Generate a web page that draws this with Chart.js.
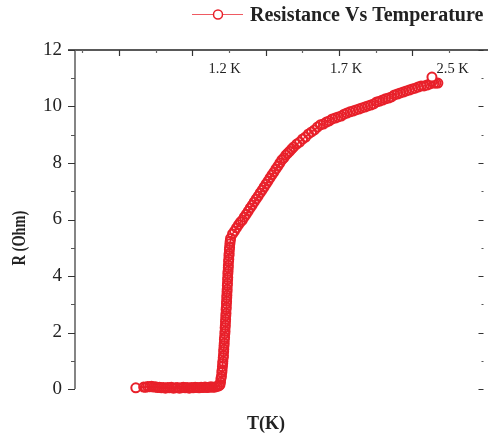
<!DOCTYPE html>
<html>
<head>
<meta charset="utf-8">
<script src="https://cdn.jsdelivr.net/npm/chart.js@4"></script>
<style>
  html, body { margin: 0; padding: 0; background: #fff; overflow: hidden; }
  #wrap { width: 488px; height: 437px; overflow: hidden; }
</style>
</head>
<body>
<div id="wrap"><canvas id="rt" width="490" height="437"></canvas></div>
<script>
// ---------------- data ----------------
// sweep index (horizontal position) and resistance in Ohm
// superconducting floor
var flatIdx = [122.9, 133.6, 136.3, 139.0, 141.7, 144.4, 147.1, 149.8, 152.5, 155.2, 157.9,
    160.6, 163.3, 166.0, 168.7, 171.4, 174.1, 176.8, 179.5, 182.2, 184.9, 187.6, 190.3, 193.0,
    195.7, 198.4, 201.1, 203.8, 206.5, 209.2, 211.9, 214.6, 217.3, 220.0, 222.7, 225.4, 228.1,
    230.8, 233.5, 236.2];
var flatR = [0.04, 0.07, 0.06, 0.09, 0.08, 0.10, 0.07, 0.08, 0.05, 0.06, 0.04, 0.05, 0.03, 0.05,
    0.04, 0.06, 0.03, 0.04, 0.05, 0.03, 0.04, 0.06, 0.04, 0.05, 0.03, 0.05, 0.04, 0.06, 0.05,
    0.04, 0.06, 0.05, 0.07, 0.05, 0.06, 0.08, 0.06, 0.07, 0.09, 0.11];

// transition
var riseIdx = [237.7, 238.4, 239.0, 239.7, 240.2, 240.5, 241.0, 241.4, 241.6, 242.1, 242.4,
    242.7, 242.9, 243.2, 243.5, 243.7, 244.0, 244.3, 244.6, 244.7, 245.0, 245.2, 245.4, 245.6,
    245.9, 246.0, 246.3, 246.5, 246.7, 246.9, 247.1, 247.3, 247.5, 247.7, 247.9, 248.1, 248.3,
    248.4, 248.7, 249.0, 249.1, 249.4, 249.7, 249.9, 250.2, 250.5, 250.8, 251.2, 251.6, 252.1];
var riseR = [0.15, 0.24, 0.37, 0.45, 0.58, 0.66, 0.79, 0.90, 0.98, 1.11, 1.19, 1.32, 1.41, 1.53,
    1.62, 1.75, 1.83, 1.96, 2.04, 2.17, 2.26, 2.38, 2.47, 2.59, 2.68, 2.81, 2.89, 3.02, 3.11,
    3.23, 3.32, 3.44, 3.53, 3.66, 3.74, 3.87, 3.95, 4.08, 4.17, 4.29, 4.38, 4.51, 4.59, 4.72,
    4.80, 4.93, 5.02, 5.14, 5.23, 5.33];

// normal state
var curveIdx = [254.8, 257.5, 260.2, 262.9, 265.6, 268.3, 270.9, 273.6, 276.3, 279.0, 281.7,
    284.4, 287.1, 289.8, 292.5, 295.2, 297.9, 300.6, 303.2, 305.9, 308.6, 311.3, 314.0, 316.7,
    319.4, 322.1, 324.8, 327.5, 330.2, 332.9, 335.6, 338.2, 342.3, 346.3, 350.4, 354.4, 358.4,
    362.5, 366.5, 370.5, 374.6, 378.6, 382.7, 386.7, 390.7, 394.8, 398.8, 402.9, 406.9, 410.9,
    415.0, 419.0, 423.0, 427.1, 431.1, 435.2, 439.2, 443.2, 447.3, 451.3, 455.3, 459.4, 463.4,
    467.5, 471.5, 475.5, 479.6, 483.6, 487.6, 491.7, 495.7, 499.8, 503.8, 507.8, 511.9, 515.9,
    520.0, 524.0, 526.7, 529.4, 532.1, 534.8, 526.7];
var curveR = [5.49, 5.59, 5.70, 5.81, 5.91, 5.98, 6.09, 6.19, 6.30, 6.41, 6.51, 6.62, 6.73, 6.83,
    6.94, 7.04, 7.15, 7.26, 7.36, 7.47, 7.58, 7.68, 7.79, 7.89, 8.00, 8.11, 8.18, 8.28, 8.35,
    8.42, 8.50, 8.57, 8.67, 8.74, 8.85, 8.92, 9.03, 9.10, 9.17, 9.27, 9.35, 9.38, 9.45, 9.49,
    9.56, 9.59, 9.63, 9.66, 9.73, 9.77, 9.81, 9.84, 9.88, 9.91, 9.95, 9.98, 10.02, 10.05, 10.09,
    10.16, 10.19, 10.23, 10.27, 10.30, 10.34, 10.41, 10.44, 10.48, 10.51, 10.55, 10.58, 10.62,
    10.65, 10.69, 10.73, 10.73, 10.76, 10.80, 10.87, 10.83, 10.83, 10.83, 11.04];

// temperature markers along the top edge
var markLabels = ['1.2 K', '1.7 K', '2.5 K'];
var markIdx = [244.0, 409.6, 555.0];

// axis ticks
var yTicks = [0, 2, 4, 6, 8, 10, 12];
var yMinor = [1, 3, 5, 7, 9, 11];
var topMajor = [100, 200, 300, 400, 500];
var topMinor = [50, 150, 250, 350, 450, 550];

var seriesName = 'Resistance Vs Temperature';
var RED = '#e8202a';
var SERIF = '"Liberation Serif", "Times New Roman", serif';

var idx = flatIdx.concat(riseIdx, curveIdx);
var res = flatR.concat(riseR, curveR);
var points = idx.map(function (x, i) { return { x: x, y: res[i] }; });
var lastPt = points.length - 1;

// frame: left axis, top line, inward ticks on top/right
var framePlugin = {
    id: 'frame',
    beforeDatasetsDraw: function (chart) {
        var ctx = chart.ctx, a = chart.chartArea;
        var xs = chart.scales.x, ys = chart.scales.y;
        ctx.save();
        ctx.lineCap = 'butt';

        // top line
        ctx.strokeStyle = '#222';
        ctx.lineWidth = 1.3;
        ctx.beginPath();
        ctx.moveTo(a.left - 7, a.top);
        ctx.lineTo(chart.width, a.top);
        ctx.stroke();

        // left axis
        ctx.strokeStyle = '#666';
        ctx.lineWidth = 1.6;
        ctx.beginPath();
        ctx.moveTo(a.left, a.top);
        ctx.lineTo(a.left, a.bottom);
        ctx.stroke();

        // left ticks (outward) and right ticks (inward)
        ctx.lineWidth = 1.2;
        ctx.strokeStyle = '#333';
        yTicks.forEach(function (v) {
            var y = Math.round(ys.getPixelForValue(v)) + 0.5;
            ctx.beginPath();
            ctx.moveTo(a.left - 7, y); ctx.lineTo(a.left, y);
            ctx.moveTo(a.right, y); ctx.lineTo(a.right - 5, y);
            ctx.stroke();
        });
        ctx.strokeStyle = '#555';
        yMinor.forEach(function (v) {
            var y = Math.round(ys.getPixelForValue(v)) + 0.5;
            ctx.beginPath();
            ctx.moveTo(a.left - 4, y); ctx.lineTo(a.left, y);
            ctx.moveTo(a.right, y); ctx.lineTo(a.right - 2, y);
            ctx.stroke();
        });

        // top ticks (inward)
        ctx.strokeStyle = '#333';
        topMajor.forEach(function (v) {
            var x = Math.round(xs.getPixelForValue(v)) + 0.5;
            ctx.beginPath(); ctx.moveTo(x, a.top); ctx.lineTo(x, a.top + 6); ctx.stroke();
        });
        ctx.strokeStyle = '#666';
        topMinor.forEach(function (v) {
            var x = Math.round(xs.getPixelForValue(v)) + 0.5;
            ctx.beginPath(); ctx.moveTo(x, a.top); ctx.lineTo(x, a.top + 3); ctx.stroke();
        });
        ctx.restore();
    }
};

// legend, temperature markers and axis titles
var textPlugin = {
    id: 'texts',
    afterDraw: function (chart) {
        var ctx = chart.ctx, a = chart.chartArea;
        var xs = chart.scales.x;
        ctx.save();
        ctx.fillStyle = '#222';

        // markers
        ctx.font = '14.5px ' + SERIF;
        ctx.textAlign = 'center';
        ctx.textBaseline = 'alphabetic';
        markLabels.forEach(function (t, i) {
            ctx.fillText(t, xs.getPixelForValue(markIdx[i]), a.top + 23);
        });

        // legend
        ctx.strokeStyle = '#ef5a62';
        ctx.lineWidth = 1;
        ctx.beginPath(); ctx.moveTo(192, 14.5); ctx.lineTo(243, 14.5); ctx.stroke();
        ctx.strokeStyle = RED;
        ctx.fillStyle = '#fff';
        ctx.lineWidth = 1.5;
        ctx.beginPath(); ctx.arc(218, 14.5, 4.5, 0, Math.PI * 2); ctx.fill(); ctx.stroke();
        ctx.fillStyle = '#222';
        ctx.font = 'bold 20px ' + SERIF;
        ctx.textAlign = 'left';
        ctx.fillText(seriesName, 250, 21);

        // x title
        ctx.font = 'bold 18px ' + SERIF;
        ctx.textAlign = 'center';
        ctx.textBaseline = 'middle';
        ctx.fillText('T(K)', 266, 424);

        // y title
        ctx.translate(20, 238);
        ctx.rotate(-Math.PI / 2);
        ctx.scale(0.8, 1);
        ctx.fillText('R (Ohm)', 0, 0);
        ctx.restore();
    }
};

new Chart(document.getElementById('rt'), {
    type: 'scatter',
    data: {
        datasets: [{
            label: seriesName,
            data: points,
            showLine: true,
            borderColor: RED,
            borderWidth: 1.5,
            pointRadius: 4.5,
            pointBorderWidth: 2,
            pointBorderColor: RED,
            pointBackgroundColor: function (c) {
                return (c.dataIndex === 0 || c.dataIndex === lastPt) ? '#fff' : 'rgba(255,255,255,0)';
            },
            clip: false
        }]
    },
    options: {
        responsive: false,
        devicePixelRatio: 1,
        animation: false,
        events: [],
        layout: { padding: { left: 0, right: 1, top: 0, bottom: 48 } },
        plugins: { legend: { display: false }, tooltip: { enabled: false } },
        scales: {
            x: {
                type: 'linear',
                position: 'top',
                min: 40,
                max: 597,
                ticks: { display: false },
                grid: { display: false },
                border: { display: false },
                afterFit: function (s) { s.height = 50; }
            },
            y: {
                position: 'left',
                min: 0,
                max: 12,
                ticks: {
                    stepSize: 2,
                    padding: 13,
                    color: '#222',
                    font: { family: SERIF, size: 19 }
                },
                grid: { drawOnChartArea: false, drawTicks: false },
                border: { display: false },
                afterFit: function (s) { s.width = 75; }
            }
        }
    },
    plugins: [framePlugin, textPlugin]
});
</script>
</body>
</html>
